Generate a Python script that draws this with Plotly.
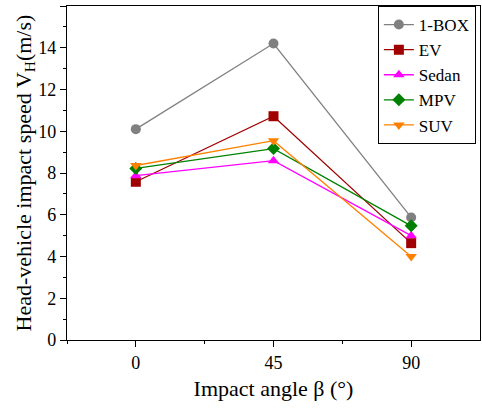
import plotly.graph_objects as go

angles = [0, 45, 90]
series_names = ["1-BOX", "EV", "Sedan", "MPV", "SUV"]
speed_1box = [10.1, 14.2, 5.87]
speed_ev = [7.58, 10.72, 4.64]
speed_sedan = [7.87, 8.59, 5.0]
speed_mpv = [8.22, 9.17, 5.47]
speed_suv = [8.36, 9.55, 4.0]
x_tick_labels = ["0", "45", "90"]

styles = [
    ("#808080", "circle"),
    ("#A00000", "square"),
    ("#FF00FF", "triangle-up"),
    ("#008000", "diamond"),
    ("#FF8000", "triangle-down"),
]
values = [speed_1box, speed_ev, speed_sedan, speed_mpv, speed_suv]

fig = go.Figure()
for name, ys, (color, symbol) in zip(series_names, values, styles):
    fig.add_trace(go.Scatter(
        x=angles, y=ys, name=name, mode="lines+markers",
        line=dict(color=color, width=1.3),
        marker=dict(symbol=symbol, size=10, color=color),
    ))

serif = "Liberation Serif"
fig.update_layout(
    width=482, height=414,
    margin=dict(l=67, r=2, t=6, b=74),
    plot_bgcolor="white", paper_bgcolor="white",
    font=dict(family=serif, size=17, color="black"),
    showlegend=True,
    legend=dict(
        x=0.99, y=1.0, xanchor="right", yanchor="top",
        bgcolor="white", bordercolor="black", borderwidth=1,
        font=dict(family=serif, size=17, color="black"),
        tracegroupgap=0, itemwidth=30,
    ),
    xaxis=dict(
        range=[-22.5, 112.5], tickvals=angles, ticktext=x_tick_labels,
        showgrid=False, zeroline=False,
        showline=True, linecolor="black", linewidth=1.3, mirror=True,
        ticks="outside", ticklen=6, tickwidth=1.2, tickcolor="black",
        minor=dict(tickvals=[-22.5, 22.5, 67.5], ticks="outside", ticklen=3,
                   tickwidth=1.2, tickcolor="black"),
        title=dict(text="Impact angle β (°)",
                   font=dict(family=serif, size=22, color="black"), standoff=8),
        tickfont=dict(family=serif, size=18, color="black"),
    ),
    yaxis=dict(
        range=[0, 16], dtick=2,
        showgrid=False, zeroline=False,
        showline=True, linecolor="black", linewidth=1.3, mirror=True,
        ticks="outside", ticklen=6, tickwidth=1.2, tickcolor="black",
        minor=dict(dtick=1, ticks="outside", ticklen=3, tickwidth=1.2,
                   tickcolor="black"),
        title=dict(text="Head-vehicle impact speed V<sub>H</sub>(m/s)",
                   font=dict(family=serif, size=22, color="black"), standoff=0),
        tickfont=dict(family=serif, size=18, color="black"),
    ),
)

fig.write_html("out.html")
